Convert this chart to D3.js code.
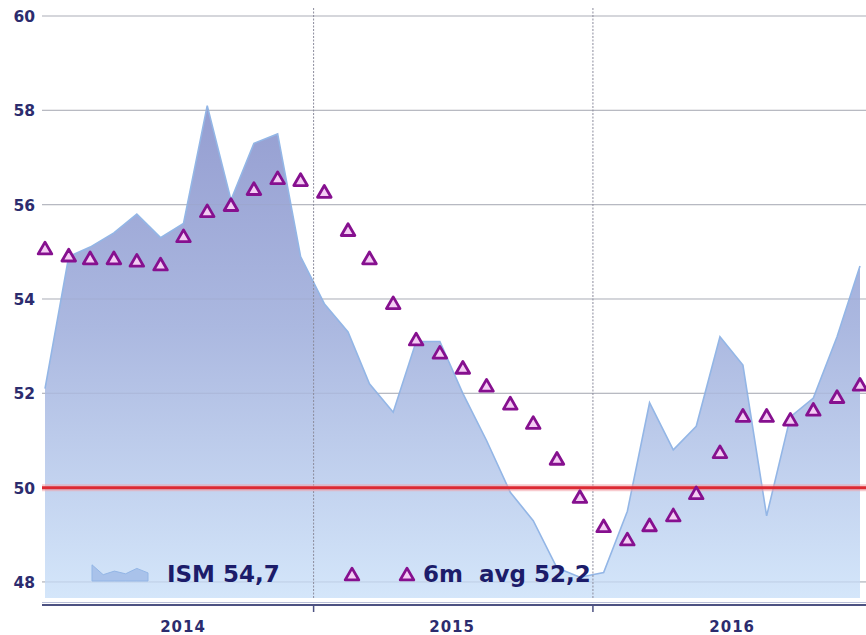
<!DOCTYPE html>
<html>
<head>
<meta charset="utf-8">
<script src="https://cdn.jsdelivr.net/npm/d3@7"></script>
<style>
  html, body { margin: 0; padding: 0; background: #ffffff; }
  svg { display: block; }
  text { font-family: "DejaVu Sans", Verdana, sans-serif; font-weight: bold; }
</style>
</head>
<body>
<svg id="chart" width="866" height="635"></svg>
<script>
// ---- data ----
const months = [
  "2014-01","2014-02","2014-03","2014-04","2014-05","2014-06","2014-07","2014-08","2014-09","2014-10","2014-11","2014-12",
  "2015-01","2015-02","2015-03","2015-04","2015-05","2015-06","2015-07","2015-08","2015-09","2015-10","2015-11","2015-12",
  "2016-01","2016-02","2016-03","2016-04","2016-05","2016-06","2016-07","2016-08","2016-09","2016-10","2016-11","2016-12"
];
const ismValues = [
  52.1, 54.9, 55.1, 55.4, 55.8, 55.3, 55.6, 58.1, 56.1, 57.3, 57.5, 54.9,
  53.9, 53.3, 52.2, 51.6, 53.1, 53.1, 52.0, 51.0, 49.9, 49.3, 48.3, 48.1,
  48.2, 49.5, 51.8, 50.8, 51.3, 53.2, 52.6, 49.4, 51.5, 51.9, 53.2, 54.7
];
const avg6mValues = [
  55.06, 54.91, 54.85, 54.85, 54.8, 54.72, 55.32, 55.85, 55.98, 56.32, 56.55, 56.51,
  56.26, 55.45, 54.85, 53.9, 53.13, 52.85, 52.53, 52.15, 51.77, 51.36, 50.6, 49.79,
  49.17, 48.89, 49.19, 49.4, 49.87, 50.74, 51.51, 51.51, 51.43, 51.64, 51.91, 52.17
];
const yTicks = [48, 50, 52, 54, 56, 58, 60];
const yearTicks = ["2015-01-01", "2016-01-01"];
const yearLabels = [
  { label: "2014", mid: "2014-07-01" },
  { label: "2015", mid: "2015-07-01" },
  { label: "2016", mid: "2016-07-01" }
];
const thresholdValue = 50;
const legendIsm = "ISM 54,7";
const legendAvg = "6m  avg 52,2";
const legendIconValues = [0.9, 0.35, 0.55, 0.4, 0.7, 0.45];

// ---- setup ----
const pLeft = 42, pRight = 866, pTop = 16, pBottom = 598;
const svg = d3.select("#chart");
const parseM = d3.timeParse("%Y-%m");
const parseD = d3.timeParse("%Y-%m-%d");
const dates = months.map(m => d3.timeDay.offset(parseM(m), 14));

const x = d3.scaleTime()
  .domain([dates[0], dates[dates.length - 1]])
  .range([45, 860]);
const y = d3.scaleLinear().domain([47.66, 60]).range([pBottom, pTop]);

const defs = svg.append("defs");
const grad = defs.append("linearGradient")
  .attr("id", "areaGrad").attr("gradientUnits", "userSpaceOnUse")
  .attr("x1", 0).attr("x2", 0).attr("y1", y(58.1)).attr("y2", pBottom);
grad.append("stop").attr("offset", "0%").attr("stop-color", "#959ed1");
grad.append("stop").attr("offset", "45%").attr("stop-color", "#abb8e0");
grad.append("stop").attr("offset", "100%").attr("stop-color", "#d4e6fa");

defs.append("clipPath").attr("id", "plotClip")
  .append("rect").attr("x", pLeft).attr("y", 0).attr("width", pRight - pLeft).attr("height", pBottom);

// horizontal gridlines
svg.append("g").selectAll("line").data(yTicks).join("line")
  .attr("x1", pLeft).attr("x2", pRight)
  .attr("y1", d => y(d)).attr("y2", d => y(d))
  .attr("stroke", "#c4c4c4").attr("stroke-width", 1.2);

const plot = svg.append("g").attr("clip-path", "url(#plotClip)");

// area
const area = d3.area()
  .x((d, i) => x(dates[i]))
  .y0(pBottom)
  .y1(d => y(d));
plot.append("path").datum(ismValues)
  .attr("d", area)
  .attr("fill", "url(#areaGrad)");
plot.append("path").datum(ismValues)
  .attr("d", d3.line().x((d, i) => x(dates[i])).y(d => y(d)))
  .attr("fill", "none").attr("stroke", "#93b6e6").attr("stroke-width", 1.6);

// gridlines over the fill (faint)
svg.append("g").selectAll("line").data(yTicks).join("line")
  .attr("x1", pLeft).attr("x2", pRight)
  .attr("y1", d => y(d)).attr("y2", d => y(d))
  .attr("stroke", "#9aa3c0").attr("stroke-opacity", 0.35).attr("stroke-width", 1);

// vertical year lines
svg.append("g").selectAll("line").data(yearTicks).join("line")
  .attr("x1", d => x(parseD(d))).attr("x2", d => x(parseD(d)))
  .attr("y1", 8).attr("y2", pBottom)
  .attr("stroke", "#8c8c9c").attr("stroke-width", 1)
  .attr("stroke-dasharray", "2,1.5");

// threshold line
svg.append("line")
  .attr("x1", pLeft).attr("x2", pRight)
  .attr("y1", y(thresholdValue)).attr("y2", y(thresholdValue))
  .attr("stroke", "#f3a0a8").attr("stroke-width", 7).attr("stroke-opacity", 0.55);
svg.append("line")
  .attr("x1", pLeft).attr("x2", pRight)
  .attr("y1", y(thresholdValue)).attr("y2", y(thresholdValue))
  .attr("stroke", "#dc2a33").attr("stroke-width", 3);

// triangles
const tri = d3.symbol().type(d3.symbolTriangle).size(80);
svg.append("g").selectAll("path").data(avg6mValues).join("path")
  .attr("d", tri)
  .attr("transform", (d, i) => `translate(${x(dates[i])},${y(d) + 1})`)
  .attr("fill", "#f4cdf4").attr("stroke", "#86108f").attr("stroke-width", 2.8)
  .attr("stroke-linejoin", "round");

// y axis labels
svg.append("g").selectAll("text").data(yTicks).join("text")
  .attr("x", 35).attr("y", d => y(d) + 6)
  .attr("text-anchor", "end")
  .attr("fill", "#2c2c6e").attr("font-size", 15.5)
  .text(d => d);

// bottom axis
svg.append("line").attr("x1", pLeft).attr("x2", pRight)
  .attr("y1", 605).attr("y2", 605)
  .attr("stroke", "#4d5282").attr("stroke-width", 2.2);
svg.append("line").attr("x1", pLeft).attr("x2", pRight)
  .attr("y1", 602.5).attr("y2", 602.5)
  .attr("stroke", "#b9bfd8").attr("stroke-width", 1);
svg.append("g").selectAll("line").data(yearTicks).join("line")
  .attr("x1", d => x(parseD(d))).attr("x2", d => x(parseD(d)))
  .attr("y1", 605).attr("y2", 612)
  .attr("stroke", "#4d5282").attr("stroke-width", 1.5);
svg.append("g").selectAll("text").data(yearLabels).join("text")
  .attr("x", (d, i) => i === 0 ? 183 : x(parseD(d.mid)))
  .attr("y", 632)
  .attr("text-anchor", "middle")
  .attr("fill", "#2c2c6e").attr("font-size", 15)
  .attr("letter-spacing", 1)
  .text(d => d.label);

// legend
const lx = d3.scaleLinear().domain([0, legendIconValues.length - 1]).range([92, 148]);
const ly = d3.scaleLinear().domain([0, 1]).range([581, 563]);
svg.append("path").datum(legendIconValues)
  .attr("d", d3.area().x((d, i) => lx(i)).y0(581).y1(d => ly(d)))
  .attr("fill", "#a9c2ea").attr("stroke", "#93b6e6").attr("stroke-width", 1);
svg.append("text").attr("x", 167).attr("y", 582)
  .attr("fill", "#1c1c6a").attr("font-size", 23)
  .text(legendIsm);
[352, 407].forEach(px => {
  svg.append("path").attr("d", tri)
    .attr("transform", `translate(${px},${576})`)
    .attr("fill", "#f4cdf4").attr("stroke", "#86108f").attr("stroke-width", 2.8)
    .attr("stroke-linejoin", "round");
});
svg.append("text").attr("x", 423).attr("y", 582)
  .attr("fill", "#1c1c6a").attr("font-size", 23)
  .style("white-space", "pre")
  .text(legendAvg);
</script>
</body>
</html>
